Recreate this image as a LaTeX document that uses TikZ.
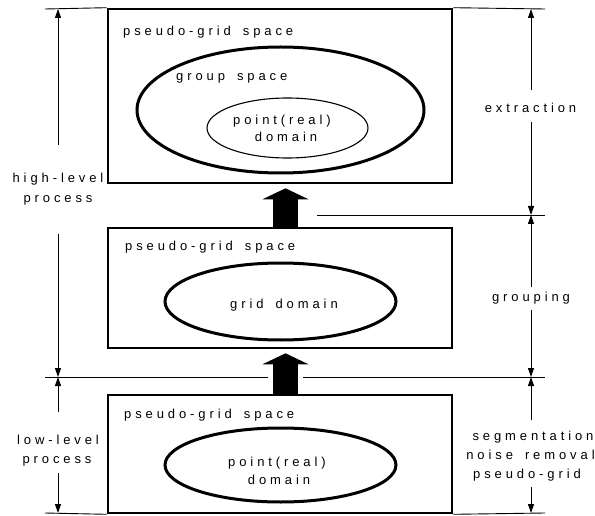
\documentclass[tikz,border=0pt]{standalone}
\usepackage{fontspec}
\setmainfont{Liberation Sans}[LetterSpace=30,WordSpace=1.6]
\usetikzlibrary{arrows.meta,shapes.geometric}
\begin{document}
\begin{tikzpicture}[x=1pt,y=-1pt,
  box/.style={draw, line width=2.6pt, minimum width=344pt, inner sep=0pt},
  thickell/.style={ellipse, draw, line width=3pt, inner sep=0pt},
  thinell/.style={ellipse, draw, line width=1.1pt, inner sep=0pt},
  lbl/.style={font=\fontsize{13}{15}\selectfont, inner sep=0pt},
  dim/.style={line width=0.9pt, -{Triangle[length=9pt,width=6pt]}},
  rule/.style={line width=0.9pt},
  blockarrow/.style={line width=25pt, -{Triangle[length=11pt,width=46pt,line width=0pt]}}]
\useasboundingbox (0,0) rectangle (595,516);

% boxes
\node[box, minimum height=174pt] (box1) at (280,96) {};
\node[box, minimum height=120pt] (box2) at (280,288) {};
\node[box, minimum height=118pt] (box3) at (280,454) {};

% ellipses
\node[thickell, minimum width=287pt, minimum height=126pt] (grp) at (280.5,110) {};
\node[thinell, minimum width=161pt, minimum height=60pt] (pt1) at (287.5,128) {};
\node[thickell, minimum width=231pt, minimum height=77pt] (grid) at (280.5,301.5) {};
\node[thickell, minimum width=231pt, minimum height=74pt] (pt3) at (280.5,465) {};

% texts
\node[lbl, anchor=base west] (s1) at (123,36) {pseudo-grid space};
\node[lbl, anchor=base west] (g1) at (176,81) {group space};
\node[lbl, anchor=base] (p1a) at (282,124.5) {point(real)};
\node[lbl, anchor=base] (p1b) at (286,141.5) {domain};
\node[lbl, anchor=base west] (s2) at (125,251) {pseudo-grid space};
\node[lbl, anchor=base] (gd) at (284,308) {grid domain};
\node[lbl, anchor=base west] (s3) at (124,418) {pseudo-grid space};
\node[lbl, anchor=base] (p3a) at (277,466.5) {point(real)};
\node[lbl, anchor=base] (p3b) at (279,484.5) {domain};
\node[lbl, anchor=base] (hl1) at (58,183) {high-level};
\node[lbl, anchor=base] (hl2) at (58,203) {process};
\node[lbl, anchor=base] (ll1) at (58,444) {low-level};
\node[lbl, anchor=base] (ll2) at (57,463) {process};
\node[lbl, anchor=base] (ex) at (530.5,113) {extraction};
\node[lbl, anchor=base] (gr) at (531,301) {grouping};
\node[lbl, anchor=base] (sg1) at (533,440.5) {segmentation};
\node[lbl, anchor=base] (sg2) at (530.5,459.5) {noise removal};
\node[lbl, anchor=base] (sg3) at (527,478.5) {pseudo-grid};

% guide lines
\coordinate (Ltop) at (45,9);
\coordinate (Rtop) at (545,9);
\coordinate (Lmid) at (45,377);
\coordinate (Rmid) at (545,377);
\coordinate (Lbot) at (45,513);
\coordinate (Rbot) at (545,513);
\coordinate (Mext) at (317,215);
\coordinate (Rext) at (545,215);
\coordinate (gapL) at (268,377);
\coordinate (gapR) at (303,377);
\draw[rule] (Ltop) -- (box1.north west);
\draw[rule] (box1.north east) -- (Rtop);
\draw[rule] (Mext) -- (Rext);
\draw[rule] (Lmid) -- (gapL);
\draw[rule] (gapR) -- (Rmid);
\draw[rule] (Lbot) -- (box3.south west);
\draw[rule] (box3.south east) -- (Rbot);

% dimension arrows, left
\coordinate (hlA) at (58,145);
\coordinate (hlB) at (58,234);
\coordinate (llA) at (58,412);
\coordinate (llB) at (58,473);
\draw[dim] (hlA) -- (hlA |- Ltop);
\draw[dim] (hlB) -- (hlB |- Lmid);
\draw[dim] (llA) -- (llA |- Lmid);
\draw[dim] (llB) -- (llB |- Lbot);

% dimension arrows, right
\coordinate (exA) at (531,90);
\coordinate (exB) at (531,122);
\coordinate (grA) at (531,287);
\coordinate (grB) at (531,310);
\coordinate (sgA) at (531,420);
\coordinate (sgB) at (531,487);
\draw[dim] (exA) -- (exA |- Rtop);
\draw[dim] (exB) -- (exB |- Rext);
\draw[dim] (grA) -- (grA |- Rext);
\draw[dim] (grB) -- (grB |- Rmid);
\draw[dim] (sgA) -- (sgA |- Rmid);
\draw[dim] (sgB) -- (sgB |- Rbot);

% block arrows between levels
\draw[blockarrow] ([xshift=5.5pt]box2.north) -- ([xshift=5.5pt,yshift=-4pt]box1.south);
\draw[blockarrow] ([xshift=5.5pt]box3.north) -- ([xshift=5.5pt,yshift=-4pt]box2.south);
\end{tikzpicture}
\end{document}
